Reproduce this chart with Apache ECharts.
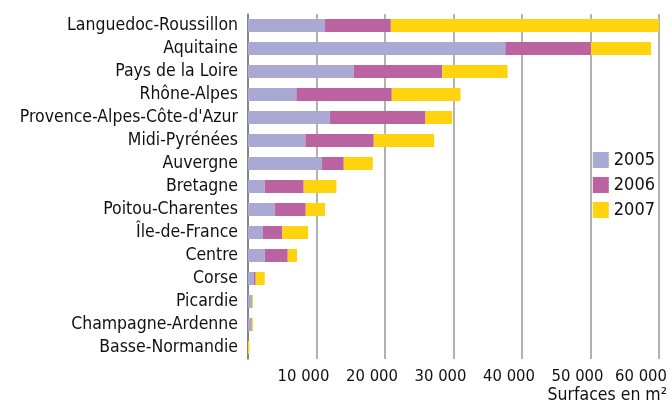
<!DOCTYPE html>
<html>
<head>
<meta charset="utf-8">
<script src="https://cdn.jsdelivr.net/npm/echarts@6/dist/echarts.min.js"></script>
<style>
  html, body { margin: 0; padding: 0; background: #fff; }
  #chart { width: 672px; height: 407px; }
</style>
</head>
<body>
<div id="chart"></div>
<script>
const regions = [
  "Languedoc-Roussillon", "Aquitaine", "Pays de la Loire", "Rhône-Alpes",
  "Provence-Alpes-Côte-d'Azur", "Midi-Pyrénées", "Auvergne", "Bretagne",
  "Poitou-Charentes", "Île-de-France", "Centre", "Corse", "Picardie",
  "Champagne-Ardenne", "Basse-Normandie"
];
const years = ["2005", "2006", "2007"];
const surf2005 = [11250, 37560, 15440, 7060, 11930, 8380, 10810, 2440, 3950, 2190, 2440, 830, 600, 450, 0];
const surf2006 = [9600, 12510, 12910, 13930, 13980, 9980, 3170, 5690, 4480, 2830, 3360, 290, 0, 100, 0];
const surf2007 = [39150, 8770, 9550, 10040, 3900, 8820, 4240, 4780, 2820, 3750, 1360, 1320, 120, 150, 200];
const colors = ["#aaa9d3", "#bb62a0", "#ffd30d"];

const font = "'Liberation Sans Narrow', 'DejaVu Sans Condensed', sans-serif";
const myChart = echarts.init(document.getElementById("chart"));

const option = {
  animation: false,
  textStyle: { fontFamily: font },
  grid: { left: 248, right: 13, top: 14, bottom: 48, outerBoundsMode: "none" },
  legend: {
    orient: "vertical",
    right: 12,
    top: 146,
    itemWidth: 16,
    itemHeight: 16,
    itemGap: 7,
    icon: "rect",
    textStyle: { fontSize: 18, color: "#111", fontFamily: font },
    data: years
  },
  title: {
    text: "Surfaces en m²",
    right: 0,
    bottom: -2,
    textStyle: { fontSize: 17.5, fontWeight: "normal", color: "#111", fontFamily: font }
  },
  xAxis: {
    type: "value",
    min: 0,
    max: 60000,
    interval: 10000,
    axisLine: { show: false },
    axisTick: { show: false },
    axisLabel: {
      color: "#111",
      margin: 9,
      formatter: (v) => {
        if (v === 0) return "";
        const txt = String(v / 1000) + " 000";
        return v === 60000 ? "{m|" + txt + "}" : "{n|" + txt + "}";
      },
      rich: {
        n: { fontSize: 16.5, color: "#111", fontFamily: font, padding: [0, 26, 0, 0] },
        m: { fontSize: 16.5, color: "#111", fontFamily: font, padding: [0, 36, 0, 0] }
      }
    },
    splitLine: { show: true, lineStyle: { color: "#999", width: 1.5 } }
  },
  yAxis: {
    type: "category",
    inverse: true,
    data: regions,
    axisLine: { show: true, lineStyle: { color: "#777", width: 1.5 } },
    axisTick: { show: false },
    axisLabel: { fontSize: 17.5, color: "#111", margin: 10, interval: 0 }
  },
  series: [surf2005, surf2006, surf2007].map((d, i) => ({
    name: years[i],
    type: "bar",
    stack: "total",
    barWidth: 13,
    itemStyle: { color: colors[i] },
    data: d
  }))
};

myChart.setOption(option);
</script>
</body>
</html>
